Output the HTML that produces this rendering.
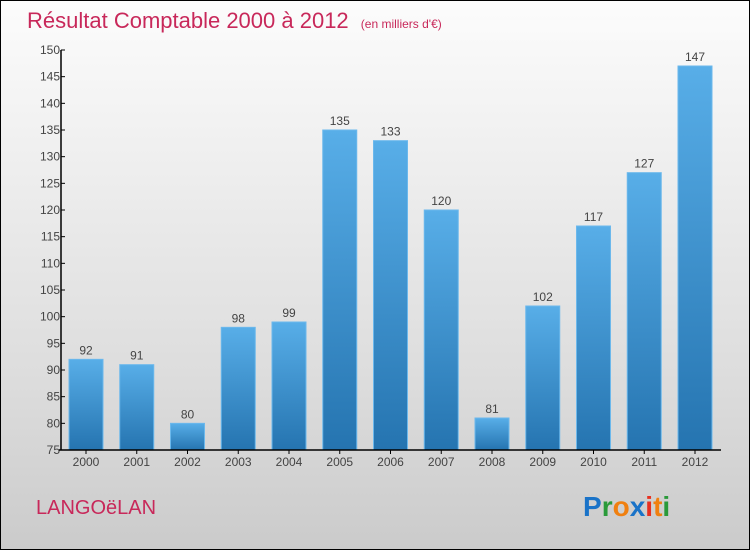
<!DOCTYPE html>
<html><head><meta charset="utf-8">
<style>
html,body{margin:0;padding:0;}
body{width:750px;height:550px;overflow:hidden;font-family:"Liberation Sans",sans-serif;}
#wrap{position:relative;width:748px;height:548px;border:1px solid #000;background:linear-gradient(#fcfcfc,#dcdcdc 70%,#cbcbcb);}
</style></head>
<body>
<div id="wrap">
<svg id="chart" width="748" height="548" style="position:absolute;left:0;top:0">
<defs>
<linearGradient id="bg" x1="0" y1="0" x2="0" y2="1">
<stop offset="0" stop-color="#58aee8"/><stop offset="1" stop-color="#2574b0"/>
</linearGradient>
</defs>
<text x="26" y="27" font-size="22" fill="#c8285a">Résultat Comptable 2000 à 2012 <tspan font-size="12" dx="6">(en milliers d'€)</tspan></text>
<text x="35" y="513" font-size="20" fill="#c8285a">LANGOëLAN</text>
<text x="582" y="515" font-size="28" font-weight="bold"><tspan fill="#1a73c8">P</tspan><tspan fill="#2a9a3a">r</tspan><tspan fill="#f08010">o</tspan><tspan fill="#1a73c8">x</tspan><tspan fill="#e83020">i</tspan><tspan fill="#f08010">t</tspan><tspan fill="#2a9a3a">i</tspan></text>
<g id="plot"></g>
</svg>
</div>
<script>
const categories=["2000","2001","2002","2003","2004","2005","2006","2007","2008","2009","2010","2011","2012"];
const values=[92,91,80,98,99,135,133,120,81,102,117,127,147];
const yTicks=[75,80,85,90,95,100,105,110,115,120,125,130,135,140,145,150];
const NS="http://www.w3.org/2000/svg";
const g=document.getElementById('plot');
const yMin=75,yMax=150,y0=449,y1=49,xL=60,xR=720;
const y=v=>y0-(v-yMin)/(yMax-yMin)*(y0-y1);
const step=50.75,x0=85;
const x=i=>x0+i*step;
function mk(t,a){const e=document.createElementNS(NS,t);for(const k in a)e.setAttribute(k,a[k]);g.appendChild(e);return e;}
values.forEach((v,i)=>{
 const r=mk('rect',{x:x(i)-17,y:y(v),width:34,height:y0-y(v),fill:'url(#bg)',stroke:'#6bb8ec','stroke-width':1});
 
 
 const t=mk('text',{x:x(i),y:y(v)-5,'text-anchor':'middle','font-size':12,fill:'#444'});
 t.textContent=v;
 
 
 const c=mk('text',{x:x(i),y:y0+16,'text-anchor':'middle','font-size':12,fill:'#444'});
 c.textContent=categories[i];
 
 
 mk('line',{x1:x(i),x2:x(i),y1:y0,y2:y0+4,stroke:'#000'});
});
yTicks.forEach(v=>{
 mk('line',{x1:xL,x2:xL+4,y1:y(v),y2:y(v),stroke:'#000'});
 const t=mk('text',{x:xL-1,y:y(v)+4,'text-anchor':'end','font-size':12,fill:'#444'});
 t.textContent=v;
 
 
});
const ya=mk('line',{x1:xL,x2:xL,y1:y1,y2:y0,stroke:'#000','stroke-width':1.5});


const xa=mk('line',{x1:xL-2,x2:xR,y1:y0,y2:y0,stroke:'#000','stroke-width':1.5});


</script>
</body></html>
